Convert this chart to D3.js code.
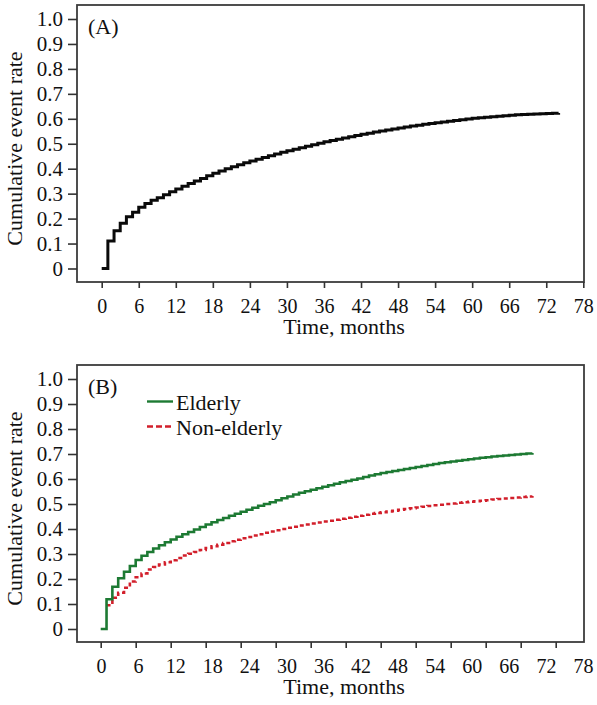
<!DOCTYPE html>
<html>
<head>
<meta charset="utf-8">
<script src="https://cdn.jsdelivr.net/npm/d3@7"></script>
<style>
  html, body { margin: 0; padding: 0; background: #fff; }
  svg { display: block; }
</style>
</head>
<body>
<svg id="chart" width="597" height="705"></svg>
<script>
// ---------- data ----------
const xTicks = [0, 6, 12, 18, 24, 30, 36, 42, 48, 54, 60, 66, 72, 78];
const yTicks = [0, 0.1, 0.2, 0.3, 0.4, 0.5, 0.6, 0.7, 0.8, 0.9, 1.0];

// Panel A: overall cumulative event rate, months 0..74
const overall = [0, 0.110, 0.151, 0.181, 0.207, 0.225, 0.245, 0.261, 0.274, 0.284,
  0.296, 0.308, 0.319, 0.330, 0.341, 0.351, 0.361, 0.372, 0.382, 0.391,
  0.400, 0.408, 0.416, 0.424, 0.431, 0.438, 0.445, 0.452, 0.459, 0.466,
  0.472, 0.478, 0.484, 0.490, 0.496, 0.502, 0.508, 0.513, 0.518, 0.523,
  0.528, 0.533, 0.538, 0.542, 0.547, 0.551, 0.555, 0.559, 0.563, 0.567,
  0.571, 0.574, 0.578, 0.581, 0.584, 0.587, 0.590, 0.593, 0.596, 0.599,
  0.602, 0.604, 0.606, 0.608, 0.610, 0.612, 0.614, 0.616, 0.617, 0.618,
  0.619, 0.620, 0.621, 0.622, 0.623];

// Panel B: Elderly, months 0..74
const elderly = [0, 0.119, 0.169, 0.203, 0.229, 0.252, 0.276, 0.293, 0.308, 0.322,
  0.335, 0.347, 0.358, 0.369, 0.379, 0.388, 0.398, 0.408, 0.418, 0.427,
  0.436, 0.444, 0.453, 0.461, 0.469, 0.477, 0.485, 0.493, 0.500, 0.507,
  0.515, 0.523, 0.530, 0.538, 0.545, 0.551, 0.557, 0.563, 0.569, 0.575,
  0.581, 0.587, 0.592, 0.597, 0.602, 0.608, 0.614, 0.619, 0.624, 0.628,
  0.632, 0.636, 0.640, 0.644, 0.648, 0.652, 0.656, 0.660, 0.664, 0.667,
  0.670, 0.673, 0.676, 0.679, 0.682, 0.685, 0.687, 0.690, 0.692, 0.694,
  0.696, 0.698, 0.700, 0.702, 0.704];

// Panel B: Non-elderly, months 1..74
const nonElderly = [0.095, 0.125, 0.145, 0.165, 0.190, 0.207, 0.222, 0.238, 0.248,
  0.258, 0.267, 0.275, 0.284, 0.294, 0.301, 0.308, 0.316, 0.324, 0.331,
  0.337, 0.344, 0.351, 0.357, 0.363, 0.368, 0.374, 0.379, 0.385, 0.390,
  0.395, 0.400, 0.405, 0.409, 0.414, 0.418, 0.422, 0.426, 0.430, 0.433,
  0.437, 0.441, 0.445, 0.449, 0.453, 0.457, 0.461, 0.464, 0.467, 0.470,
  0.473, 0.477, 0.480, 0.483, 0.486, 0.489, 0.492, 0.495, 0.497, 0.500,
  0.502, 0.505, 0.507, 0.509, 0.511, 0.513, 0.515, 0.518, 0.520, 0.522,
  0.524, 0.526, 0.528, 0.530, 0.532];

const seriesNames = ["Elderly", "Non-elderly"];
const seriesColors = ["#1d7a33", "#d21f2b"];

// ---------- drawing ----------
const FONT = '"Liberation Serif", "Times New Roman", Times, serif';
const svg = d3.select("#chart");
const fmtY = d => d === 0 ? "0" : d3.format(".1f")(d);
const styleText = (sel, size) => sel.style("font-family", FONT).style("font-size", size + "px").style("fill", "#111");

function panel(opts) {
  const { top, label, xCurve, xLabel, y, lines } = opts;
  const left = 77, right = 584, bottom = top + 277;
  const g = svg.append("g");

  // frame
  g.append("rect").attr("x", left).attr("y", top)
    .attr("width", right - left).attr("height", bottom - top)
    .attr("fill", "none").attr("stroke", "#3c3c3c").attr("stroke-width", 1.8);

  // y axis
  const ya = g.append("g").attr("transform", `translate(${left},0)`)
    .call(d3.axisLeft(y).tickValues(yTicks).tickFormat(fmtY).tickSize(9).tickPadding(5));
  ya.select(".domain").remove();
  ya.selectAll(".tick line").attr("stroke", "#333").attr("stroke-width", 1.6);
  styleText(ya.selectAll(".tick text"), 21);

  // x axis ticks
  const xa = g.append("g").attr("transform", `translate(0,${bottom})`)
    .call(d3.axisBottom(xCurve).tickValues(xTicks).tickFormat("").tickSize(6));
  xa.select(".domain").remove();
  xa.selectAll(".tick line").attr("stroke", "#333").attr("stroke-width", 1.6);

  // x axis labels
  const xl = g.append("g").attr("transform", `translate(0,${bottom})`)
    .call(d3.axisBottom(xLabel).tickValues(xTicks).tickSize(0).tickPadding(17));
  xl.select(".domain").remove();
  xl.selectAll(".tick line").remove();
  styleText(xl.selectAll(".tick text"), 20);

  // axis titles
  styleText(g.append("text")
    .attr("transform", `translate(22,${(top + bottom) / 2 + 5}) rotate(-90)`)
    .attr("text-anchor", "middle")
    .text("Cumulative event rate"), 22);
  styleText(g.append("text")
    .attr("x", 344).attr("y", bottom + 52)
    .attr("text-anchor", "middle")
    .text("Time, months"), 22);

  // panel label
  styleText(g.append("text").attr("x", 88).attr("y", top + 29).text(label), 22);

  // lines
  const line = d3.line().x(d => xCurve(d[0])).y(d => y(d[1])).curve(d3.curveStepAfter);
  lines.forEach(l => {
    g.append("path").datum(l.data).attr("d", line)
      .attr("fill", "none").attr("stroke", l.color).attr("stroke-width", l.width)
      .attr("stroke-dasharray", l.dash || null)
      .attr("stroke-linejoin", "miter");
  });
  return g;
}

// Panel A
const xA = d3.scaleLinear().domain([0, 78]).range([101.7, 583.3]);
const yA = d3.scaleLinear().domain([0, 1]).range([268.5, 19]);
panel({
  top: 5, label: "(A)", xCurve: xA, xLabel: xA, y: yA,
  lines: [{ data: overall.map((v, i) => [i, v]), color: "#0a0a0a", width: 3 }]
});

// Panel B
const xB = d3.scaleLinear().domain([0, 78]).range([100.7, 555.7]);
const xBLabel = d3.scaleLinear().domain([0, 78]).range([101, 583]);
const yB = d3.scaleLinear().domain([0, 1]).range([629, 379]);
const gB = panel({
  top: 365, label: "(B)", xCurve: xB, xLabel: xBLabel, y: yB,
  lines: [
    { data: nonElderly.map((v, i) => [i + 1, v]), color: seriesColors[1], width: 2.6, dash: "4,3" },
    { data: elderly.map((v, i) => [i, v]), color: seriesColors[0], width: 2.6 }
  ]
});

// legend
const legend = gB.append("g");
const legY = d3.scaleBand().domain(seriesNames).range([389, 439]);
seriesNames.forEach((name, i) => {
  const yy = legY(name) + legY.bandwidth() / 2;
  legend.append("line").attr("x1", 147).attr("x2", 173).attr("y1", yy).attr("y2", yy)
    .attr("stroke", seriesColors[i]).attr("stroke-width", 2.4)
    .attr("stroke-dasharray", i === 1 ? "6,3" : null);
  styleText(legend.append("text").attr("x", 176).attr("y", yy + 8).text(name), 22);
});
</script>
</body>
</html>
